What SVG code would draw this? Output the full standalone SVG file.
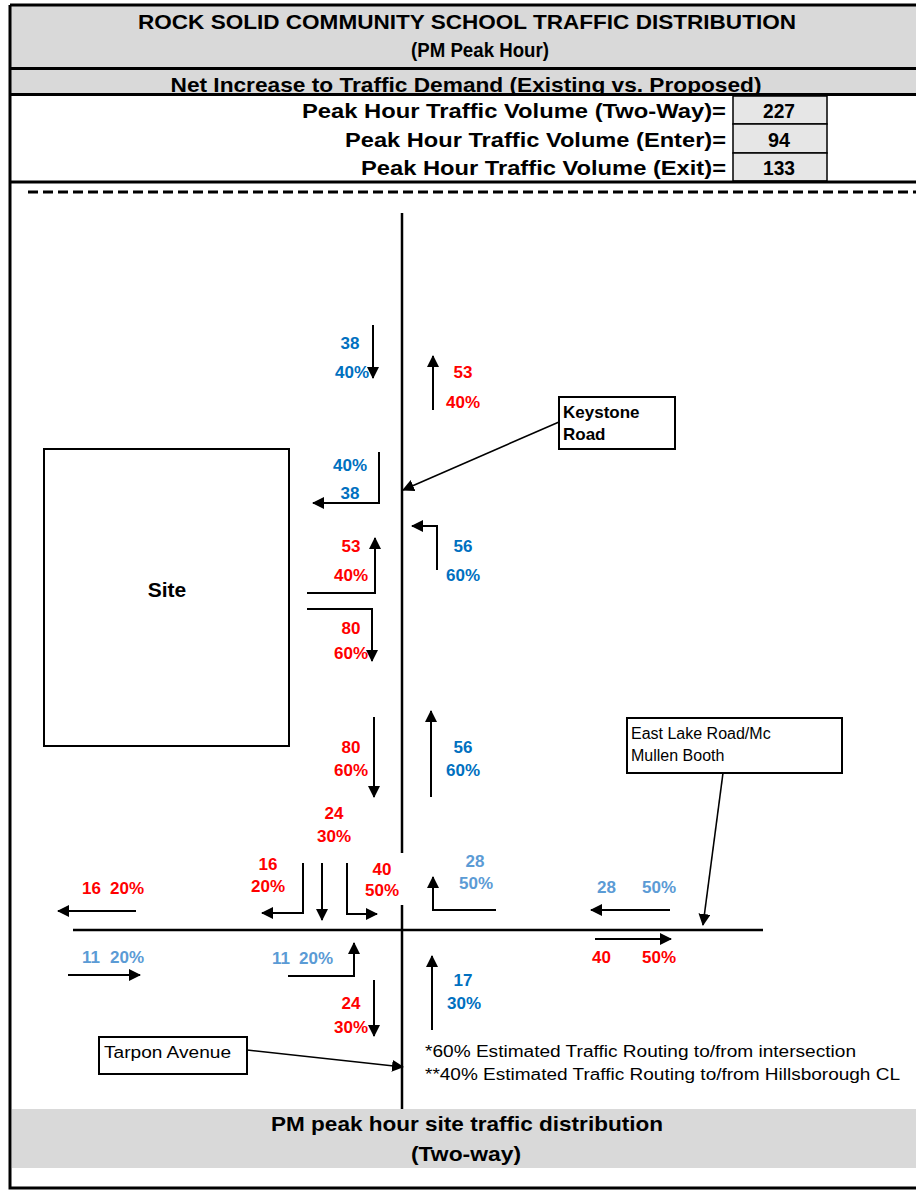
<svg xmlns="http://www.w3.org/2000/svg" width="916" height="1191" viewBox="0 0 916 1191">
<style>
.hd{font-family:"Liberation Sans",Arial,sans-serif;font-weight:bold;fill:#000}
.lb{font-family:"Liberation Sans",Arial,sans-serif;font-weight:bold;font-size:17px;text-anchor:middle}
.ls{font-family:"Liberation Sans",Arial,sans-serif;font-weight:bold;font-size:17px}
.r{fill:#ff0000}.b{fill:#0070c0}.lbl{fill:#5b9bd5}
.nt{font-family:"Liberation Sans",Arial,sans-serif;font-size:16px;fill:#000}
.ar{fill:none;stroke:#000;stroke-width:2;marker-end:url(#ah)}
.ld{fill:none;stroke:#000;stroke-width:1.6;marker-end:url(#ah)}
.rd{fill:none;stroke:#000;stroke-width:2.5}
.box{fill:#fff;stroke:#000;stroke-width:2}
</style>
<defs>
<marker id="ah" viewBox="0 0 12 12" markerWidth="12" markerHeight="12" refX="11" refY="6" orient="auto" markerUnits="userSpaceOnUse"><path d="M0,0 L12,6 L0,12 z" fill="#000"/></marker>
</defs>
<rect width="916" height="1191" fill="#fff"/>
<g id="header">
<rect x="10" y="5" width="906" height="63" fill="#d9d9d9"/>
<rect x="10" y="69" width="906" height="25" fill="#d9d9d9"/>
<text class="hd" x="467" y="29" font-size="21" text-anchor="middle" textLength="658" lengthAdjust="spacingAndGlyphs">ROCK SOLID COMMUNITY SCHOOL TRAFFIC DISTRIBUTION</text>
<text class="hd" x="480" y="57" font-size="21" text-anchor="middle" textLength="138" lengthAdjust="spacingAndGlyphs">(PM Peak Hour)</text>
<text class="hd" x="466" y="92" font-size="21" text-anchor="middle" textLength="591" lengthAdjust="spacingAndGlyphs">Net Increase to Traffic Demand (Existing vs. Proposed)</text>
<rect x="733" y="96" width="94" height="28" fill="#e6e6e6" stroke="#000" stroke-width="1.5"/>
<rect x="733" y="124" width="94" height="29" fill="#e6e6e6" stroke="#000" stroke-width="1.5"/>
<rect x="733" y="153" width="94" height="28" fill="#e6e6e6" stroke="#000" stroke-width="1.5"/>
<text class="hd" x="726" y="118" font-size="21" text-anchor="end" textLength="424" lengthAdjust="spacingAndGlyphs">Peak Hour Traffic Volume (Two-Way)=</text>
<text class="hd" x="726" y="147" font-size="21" text-anchor="end" textLength="381" lengthAdjust="spacingAndGlyphs">Peak Hour Traffic Volume (Enter)=</text>
<text class="hd" x="726" y="175" font-size="21" text-anchor="end" textLength="365" lengthAdjust="spacingAndGlyphs">Peak Hour Traffic Volume (Exit)=</text>
<text class="hd" x="779" y="118" font-size="21" text-anchor="middle" textLength="32" lengthAdjust="spacingAndGlyphs">227</text>
<text class="hd" x="779" y="147" font-size="21" text-anchor="middle" textLength="22" lengthAdjust="spacingAndGlyphs">94</text>
<text class="hd" x="779" y="175" font-size="21" text-anchor="middle" textLength="32" lengthAdjust="spacingAndGlyphs">133</text>
<path d="M10,5 H916 M10,68.5 H916 M10,94.5 H916 M10,182 H916" stroke="#000" stroke-width="3" fill="none"/>
<path d="M10,5 V1188 H916" stroke="#000" stroke-width="3" fill="none"/>
<path d="M28,192 H916" stroke="#000" stroke-width="3" stroke-dasharray="10 5" fill="none"/>
</g>
<g id="footer">
<rect x="12" y="1109" width="904" height="59" fill="#d9d9d9"/>
<text class="hd" x="467" y="1131" font-size="21" text-anchor="middle" textLength="392" lengthAdjust="spacingAndGlyphs">PM peak hour site traffic distribution</text>
<text class="hd" x="466" y="1161" font-size="21" text-anchor="middle" textLength="110" lengthAdjust="spacingAndGlyphs">(Two-way)</text>
</g>
<g id="roads">
<path class="rd" d="M402,213 V853 M402,905 V1109"/>
<path class="rd" d="M73,930 H763"/>
</g>
<g id="site">
<rect x="44" y="449" width="245" height="297" class="box"/>
<text class="hd" x="167" y="597" font-size="21" text-anchor="middle">Site</text>
</g>
<g id="keystone-road">
<rect x="559" y="397" width="116" height="52" class="box"/>
<text class="hd" x="563" y="418" font-size="17">Keystone</text>
<text class="hd" x="563" y="440" font-size="17">Road</text>
</g>
<g id="east-lake-road">
<rect x="627" y="718" width="215" height="55" class="box"/>
<text class="nt" x="631" y="739">East Lake Road/Mc</text>
<text class="nt" x="631" y="761">Mullen Booth</text>
</g>
<g id="tarpon-avenue">
<rect x="99" y="1037" width="148" height="37" class="box"/>
<text class="nt" x="104" y="1058" font-size="18" textLength="127" lengthAdjust="spacingAndGlyphs">Tarpon Avenue</text>
</g>
<g id="connectors">
<path class="ar" d="M373,325 V378"/>
<path class="ar" d="M433,410 V356"/>
<path class="ar" d="M379,452 V503 H313"/>
<path class="ar" d="M437,570 V526 H412"/>
<path class="ar" d="M307,593 H375 V538"/>
<path class="ar" d="M307,609 H372 V661"/>
<path class="ar" d="M374,717 V797"/>
<path class="ar" d="M431,797 V711"/>
<path class="ar" d="M303,863 V913 H262"/>
<path class="ar" d="M322,863 V920"/>
<path class="ar" d="M347,863 V914 H377"/>
<path class="ar" d="M496,910 H433 V877"/>
<path class="ar" d="M136,911 H58"/>
<path class="ar" d="M68,975 H140"/>
<path class="ar" d="M288,976 H354 V943"/>
<path class="ar" d="M432,1030 V956"/>
<path class="ar" d="M374,980 V1036"/>
<path class="ar" d="M670,910 H591"/>
<path class="ar" d="M595,939 H671"/>
<path class="ld" d="M559,422 L403,490"/>
<path class="ld" d="M723,773 L703,925"/>
<path class="ld" d="M247,1050 L403,1067"/>
</g>
<g id="labels">
<text class="lb b" x="350" y="349">38</text>
<text class="lb b" x="352" y="378">40%</text>
<text class="lb r" x="463" y="378">53</text>
<text class="lb r" x="463" y="408">40%</text>
<text class="lb b" x="350" y="471">40%</text>
<text class="lb b" x="350" y="499">38</text>
<text class="lb b" x="463" y="552">56</text>
<text class="lb b" x="463" y="581">60%</text>
<text class="lb r" x="351" y="552">53</text>
<text class="lb r" x="351" y="581">40%</text>
<text class="lb r" x="351" y="634">80</text>
<text class="lb r" x="351" y="659">60%</text>
<text class="lb r" x="351" y="753">80</text>
<text class="lb r" x="351" y="776">60%</text>
<text class="lb b" x="463" y="753">56</text>
<text class="lb b" x="463" y="776">60%</text>
<text class="lb r" x="334" y="819">24</text>
<text class="lb r" x="334" y="842">30%</text>
<text class="lb r" x="268" y="870">16</text>
<text class="lb r" x="268" y="892">20%</text>
<text class="lb r" x="382" y="875">40</text>
<text class="lb r" x="382" y="896">50%</text>
<text class="lb lbl" x="475" y="867">28</text>
<text class="lb lbl" x="476" y="889">50%</text>
<text class="ls r" x="82" y="894">16</text>
<text class="ls r" x="110" y="894">20%</text>
<text class="ls lbl" x="82" y="963">11</text>
<text class="ls lbl" x="110" y="963">20%</text>
<text class="ls lbl" x="272" y="964">11</text>
<text class="ls lbl" x="299" y="964">20%</text>
<text class="ls lbl" x="597" y="893">28</text>
<text class="ls lbl" x="642" y="893">50%</text>
<text class="ls r" x="592" y="963">40</text>
<text class="ls r" x="642" y="963">50%</text>
<text class="lb b" x="463" y="986">17</text>
<text class="lb b" x="464" y="1009">30%</text>
<text class="lb r" x="351" y="1009">24</text>
<text class="lb r" x="351" y="1033">30%</text>
<text class="nt" x="425" y="1057" font-size="18" textLength="431" lengthAdjust="spacingAndGlyphs">*60% Estimated Traffic Routing to/from intersection</text>
<text class="nt" x="425" y="1080" font-size="18" textLength="475" lengthAdjust="spacingAndGlyphs">**40% Estimated Traffic Routing to/from Hillsborough CL</text>
</g>
</svg>
